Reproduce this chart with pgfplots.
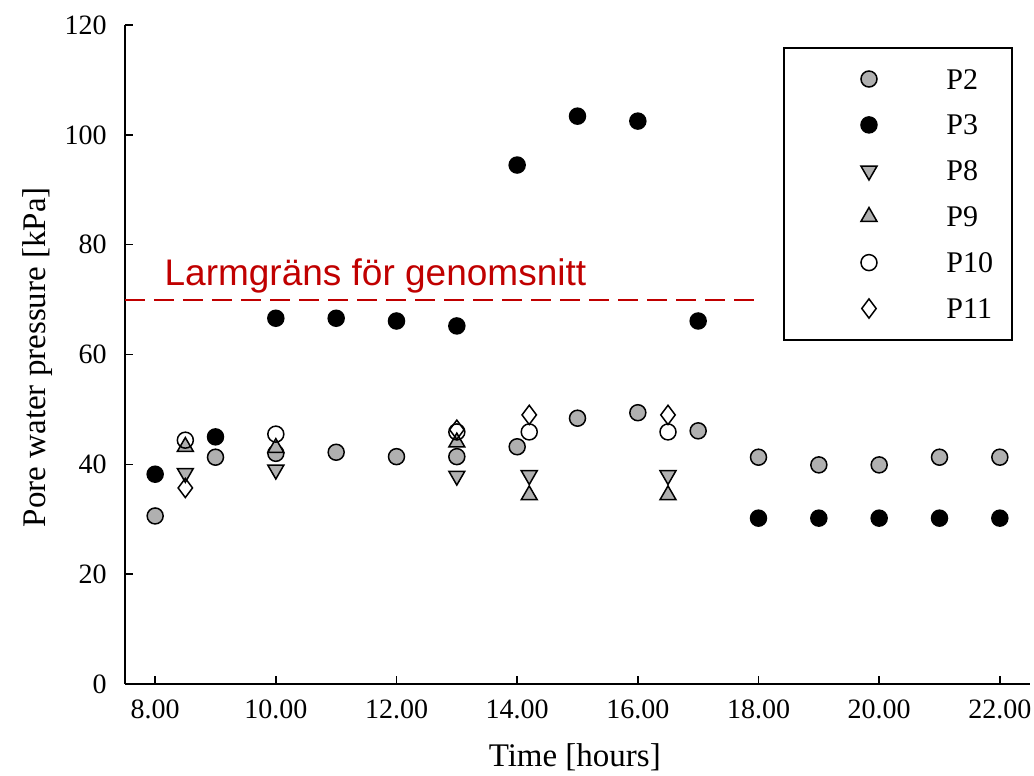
\documentclass[border=0pt]{standalone}
\usepackage{fontspec}
\setmainfont{Liberation Serif}
\newfontfamily\arialfont{Liberation Sans}
\usepackage{pgfplots}
\pgfplotsset{compat=1.18}
\definecolor{pgray}{RGB}{176,176,176}
\definecolor{alarmred}{RGB}{192,0,0}
\begin{document}
\begin{tikzpicture}
\begin{axis}[
  scale only axis, width=452.5pt, height=329.5pt,
  xmin=7.5, xmax=22.5, ymin=0, ymax=120,
  axis x line*=bottom, axis y line*=left,
  axis line style={line width=1pt, -},
  tick align=inside, major tick length=4pt, tick style={line width=0.8pt, black},
  xtick={8,10,...,22}, ytick={0,20,...,120},
  /pgf/number format/assume math mode=true,
  xticklabel style={yshift=-7.5pt, /pgf/number format/fixed, /pgf/number format/fixed zerofill, /pgf/number format/precision=2},
  tick label style={font=\fontsize{14}{16}\selectfont, inner sep=0pt},
  yticklabel style={xshift=-9pt},
  xlabel={Time [hours]}, ylabel={Pore water pressure [kPa]},
  label style={font=\fontsize{16.5}{18}\selectfont},
  xlabel style={at={(axis description cs:0.497,-0.080)}, anchor=north},
  ylabel style={at={(axis description cs:-0.097,0.496)}, anchor=center},
  legend style={at={(0.9812,0.9666)}, anchor=north east, draw=black, line width=1pt,
    inner xsep=0.75pt, inner ysep=10.5pt, row sep=12.95pt, column sep=0pt,
    font=\fontsize{15}{17}\selectfont,
    nodes={inner sep=0pt, text height=10pt, text depth=0pt, text width=32pt, align=left}},
  legend cell align=left,
  legend image code/.code={\path[draw=none, fill=none] (-41.5pt,-5pt) rectangle (38.75pt,5pt);
    \draw[#1] plot coordinates {(0pt,0pt)};},
]
\addplot[only marks, mark=*, mark size=4pt, mark options={draw=black, fill=pgray, line width=0.75pt}]
 coordinates {(8,30.6) (9,41.3) (10,42.0) (11,42.2) (12,41.4) (13,41.4) (14,43.2) (15,48.4) (16,49.4) (17,46.1) (18,41.3) (19,39.9) (20,39.9) (21,41.3) (22,41.3)};
\addlegendentry{P2}
\addplot[only marks, mark=*, mark size=4pt, mark options={draw=black, fill=black, line width=0.75pt}]
 coordinates {(8,38.2) (9,45.0) (10,66.6) (11,66.6) (12,66.1) (13,65.2) (14,94.5) (15,103.4) (16,102.5) (17,66.1) (18,30.2) (19,30.2) (20,30.2) (21,30.2) (22,30.2)};
\addlegendentry{P3}
\addplot[only marks, mark=triangle*, mark size=4.6pt, mark options={rotate=180, draw=black, fill=pgray, line width=0.75pt}]
 coordinates {(8.5,38.4) (10,39.0) (13,37.9) (14.2,38.0) (16.5,38.0)};
\addlegendentry{P8}
\addplot[only marks, mark=triangle*, mark size=4.6pt, mark options={draw=black, fill=pgray, line width=0.75pt}]
 coordinates {(8.5,43.2) (10,43.0) (13,44.0) (14.2,34.4) (16.5,34.4)};
\addlegendentry{P9}
\addplot[only marks, mark=o, mark size=4pt, mark options={draw=black, line width=0.75pt}]
 coordinates {(8.5,44.4) (10,45.5) (13,45.9) (14.2,45.9) (16.5,45.9)};
\addlegendentry{P10}
\addplot[only marks, mark=diamond, mark size=4.8pt, mark options={draw=black, line width=0.75pt}]
 coordinates {(8.5,35.7) (13,46.3) (14.2,49.0) (16.5,49.0)};
\addlegendentry{P11}
\addplot[alarmred, line width=1pt, dash pattern=on 10pt off 4.5pt, forget plot] coordinates {(7.5,70) (18,70)};
\node[anchor=base west, font=\arialfont\fontsize{18.5}{20}\selectfont, text=alarmred, inner sep=0pt] at (axis cs:8.15,72.6) {Larmgräns för genomsnitt};
\end{axis}
\pgfresetboundingbox
\path[use as bounding box] (-62.5pt,-46pt) rectangle (454.5pt,342pt);
\end{tikzpicture}
\end{document}
